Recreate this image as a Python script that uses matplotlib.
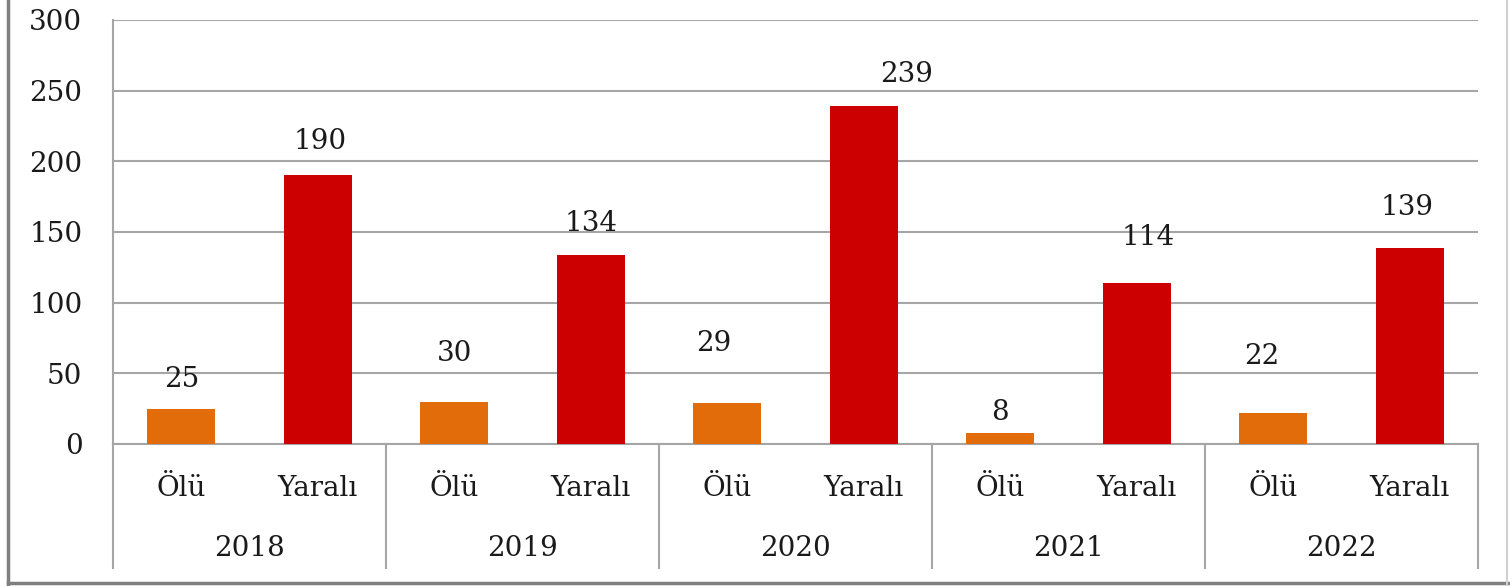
import matplotlib.pyplot as plt
from matplotlib.lines import Line2D
import matplotlib.transforms as mtransforms

years = ["2018", "2019", "2020", "2021", "2022"]
kinds = ["Ölü", "Yaralı"]
olu = [25, 30, 29, 8, 22]
yarali = [190, 134, 239, 114, 139]
# hand nudges of the data labels (points), as placed in the original
olu_nudge = [(0, 11), (0, 25), (-10, 33), (0, 5), (-8, 31)]
yarali_nudge = [(2, 15), (0, 13), (31, 13), (8, 23), (-2, 19)]

c_olu = "#E36C0A"
c_yar = "#CC0000"
grey = "#A6A6A6"
fs = 20

plt.rcParams["font.family"] = ["DejaVu Serif"]
W, H = 1510, 586
fig = plt.figure(figsize=(W / 100, H / 100), dpi=100)
ax = fig.add_axes([113 / W, (H - 444) / H, (1478 - 113) / W, 424 / H])

n = len(years)
xs_olu = [2 * i for i in range(n)]
xs_yar = [2 * i + 1 for i in range(n)]
ax.bar(xs_olu, olu, width=0.5, color=c_olu, zorder=3)
ax.bar(xs_yar, yarali, width=0.5, color=c_yar, zorder=3)

for x, v, d in zip(xs_olu, olu, olu_nudge):
    ax.annotate(str(v), (x, v), xytext=d, textcoords="offset points",
                ha="center", va="bottom", fontsize=fs, color="#1a1a1a")
for x, v, d in zip(xs_yar, yarali, yarali_nudge):
    ax.annotate(str(v), (x, v), xytext=d, textcoords="offset points",
                ha="center", va="bottom", fontsize=fs, color="#1a1a1a")

ax.set_xlim(-0.5, 2 * n - 0.5)
ax.set_ylim(0, 300)
ax.set_yticks(range(0, 301, 50))
ax.yaxis.grid(True, color=grey, lw=1.5, zorder=0)
ax.tick_params(axis="y", length=0, pad=22, labelsize=fs, labelcolor="#1a1a1a")
ax.set_xticks([])
for s in ["top", "right"]:
    ax.spines[s].set_visible(False)
for s in ["left", "bottom"]:
    ax.spines[s].set_color(grey)
    ax.spines[s].set_linewidth(1.5)

trans = mtransforms.blended_transform_factory(ax.transData, ax.transAxes)
drop = -(568 - 444) / 424
for k in range(n + 1):
    xb = 2 * k - 0.5
    ax.plot([xb, xb], [0, drop], transform=trans, color=grey, lw=1.5, clip_on=False)

for x in xs_olu + xs_yar:
    lab = kinds[0] if x % 2 == 0 else kinds[1]
    ax.text(x, -(488 - 444) / 424, lab, transform=trans, ha="center", va="center",
            fontsize=fs, color="#1a1a1a")
for i, y in enumerate(years):
    ax.text(2 * i + 0.5, -(548 - 444) / 424, y, transform=trans, ha="center",
            va="center", fontsize=fs, color="#1a1a1a")

# outer frame of the picture
fig.add_artist(Line2D([8 / W, 8 / W], [0, 1], color="#7f7f7f", lw=2.5))
fig.add_artist(Line2D([8 / W, 1], [(H - 583) / H, (H - 583) / H], color="#7f7f7f", lw=2.5))
fig.add_artist(Line2D([1507 / W, 1507 / W], [0, 1], color="#d0d0d0", lw=1.5))

fig.savefig("out.png", dpi=100)
